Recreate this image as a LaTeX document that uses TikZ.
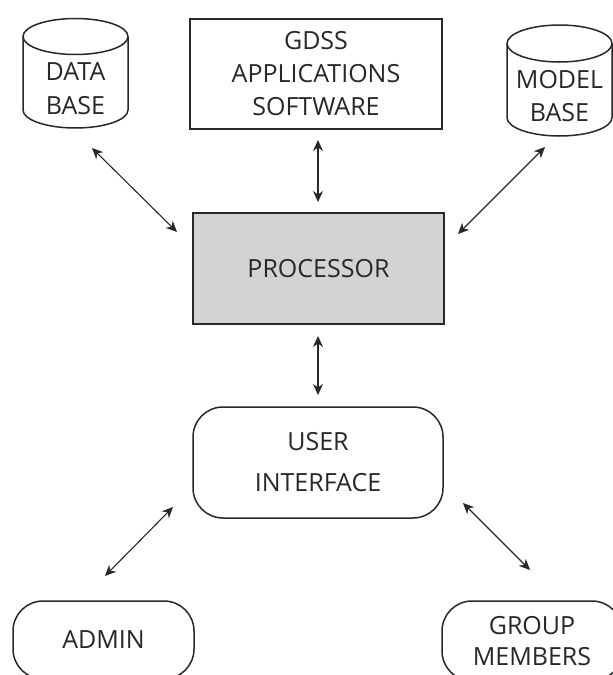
\documentclass[tikz,border=0pt]{standalone}
\usepackage{fontspec}
\setmainfont{Open Sans}
\usetikzlibrary{arrows.meta}
\definecolor{ink}{RGB}{40,40,40}
\definecolor{procfill}{RGB}{211,211,213}
\begin{document}
\begin{tikzpicture}[x=1pt,y=-1pt,
  box/.style={draw=ink, line width=1.5pt},
  lbl/.style={font=\fontsize{25}{33}\selectfont, text=ink, align=center, inner sep=0pt},
  link/.style={draw=ink, line width=1.1pt, {Stealth[length=11pt,width=10pt]}-{Stealth[length=11pt,width=10pt]}}
]
\useasboundingbox (0,0) rectangle (613,675);
\fill[white] (0,0) rectangle (613,675);
\clip (0,0) rectangle (613,675);
% DATA BASE cylinder
\draw[box] (75.5,36.5) ellipse [x radius=52.5pt, y radius=18pt];
\draw[box] (23,36.5) -- (23,110) arc[start angle=180, end angle=360, x radius=52.5pt, y radius=18pt] -- (128,36.5);
\node[lbl, font=\fontsize{25}{34}\selectfont] (db) at (75.5,89) {DATA\\BASE};
% MODEL BASE cylinder
\draw[box] (559.5,43.5) ellipse [x radius=52.5pt, y radius=18.5pt];
\draw[box] (507,43.5) -- (507,117.5) arc[start angle=180, end angle=360, x radius=52.5pt, y radius=18.5pt] -- (612,43.5);
\node[lbl] (mb) at (559.5,96.5) {MODEL\\BASE};
% GDSS
\node[box, lbl, minimum width=252pt, minimum height=110pt] (gdss) at (316,74) {GDSS\\APPLICATIONS\\SOFTWARE};
% PROCESSOR
\node[box, lbl, fill=procfill, minimum width=251pt, minimum height=111pt] (proc) at (318.5,268.5) {PROCESSOR};
% USER INTERFACE
\node[box, lbl, rounded corners=30pt, minimum width=250pt, minimum height=111pt] (ui) at (318,462.5) {USER\\[8pt]INTERFACE};
% ADMIN
\node[box, lbl, rounded corners=30pt, minimum width=181pt, minimum height=78pt] (admin) at (103.5,640) {ADMIN};
% GROUP MEMBERS
\node[box, lbl, rounded corners=30pt, minimum width=180pt, minimum height=80pt, font=\fontsize{25}{31}\selectfont] (group) at (532,641) {GROUP\\MEMBERS};
% arrow ends
\coordinate (dbA) at (92,148);
\coordinate (dbB) at (177,232);
\coordinate (mbA) at (545,147);
\coordinate (mbB) at (458,234);
\coordinate (gA) at (318,140);
\coordinate (gB) at (318,202);
\coordinate (pA) at (318,336);
\coordinate (pB) at (318,395);
\coordinate (uA) at (173,507);
\coordinate (aA) at (105,576);
\coordinate (uB) at (463,503);
\coordinate (grA) at (530,570);
\draw[link] (dbA) -- (dbB);
\draw[link] (mbA) -- (mbB);
\draw[link] (gA) -- (gB);
\draw[link] (pA) -- (pB);
\draw[link] (uA) -- (aA);
\draw[link] (uB) -- (grA);
\end{tikzpicture}
\end{document}
